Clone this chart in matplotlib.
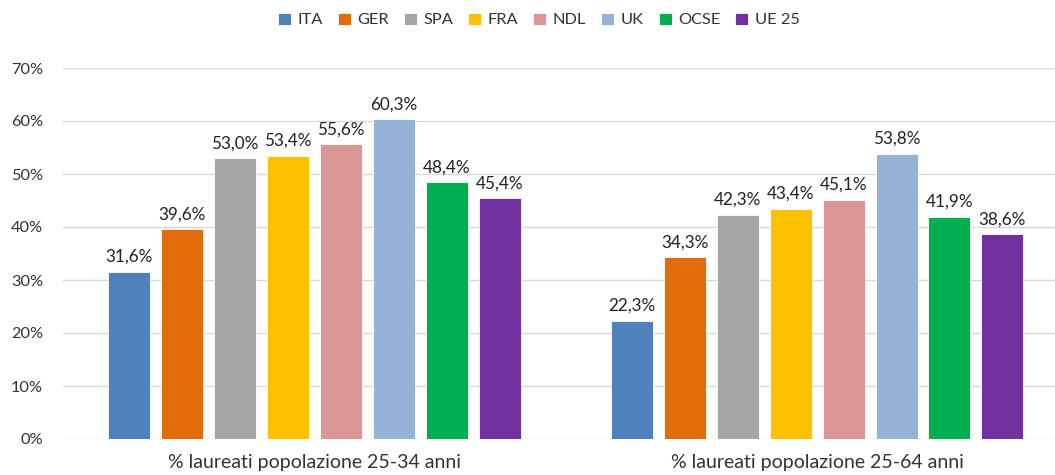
import matplotlib
matplotlib.use("Agg")
import matplotlib.pyplot as plt
import numpy as np

plt.rcParams["font.family"] = ["Lato", "DejaVu Sans"]

groups = ["% laureati popolazione 25-34 anni", "% laureati popolazione 25-64 anni"]
countries = ["ITA", "GER", "SPA", "FRA", "NDL", "UK", "OCSE", "UE 25"]
colors = ["#4F81BD", "#E36C0A", "#A5A5A5", "#FFC000", "#D99694", "#95B3D7", "#00B050", "#7030A0"]
ita = [31.6, 22.3]
ger = [39.6, 34.3]
spa = [53.0, 42.3]
fra = [53.4, 43.4]
ndl = [55.6, 45.1]
uk = [60.3, 53.8]
ocse = [48.4, 41.9]
ue25 = [45.4, 38.6]
series = [ita, ger, spa, fra, ndl, uk, ocse, ue25]
yticks = [0, 10, 20, 30, 40, 50, 60, 70]

W, H = 1055, 475
fig = plt.figure(figsize=(W / 100, H / 100), dpi=100)
# category spacing 503 px, first center at 314 px, second at 817 px
left_px, bottom_px, top_px = 62.5, 36, 407
ax = fig.add_axes([left_px / W, bottom_px / H, (W - left_px) / W, (top_px - bottom_px) / H])
ax.set_xlim(-0.5, 1 + (W - 817) / 503)
ax.set_ylim(0, 70)

x = np.arange(len(groups))
step, bw = 53 / 503, 42 / 503
for i, (name, vals, col) in enumerate(zip(countries, series, colors)):
    pos = x + (i - 3.5) * step
    b = ax.bar(pos, vals, bw, color=col, label=name, edgecolor="white", linewidth=0.6, zorder=3)
    ax.bar_label(b, labels=[f"{v:.1f}%".replace(".", ",") for v in vals],
                 padding=5, fontsize=12.3, color="#222222")

ax.set_yticks(yticks)
ax.set_yticklabels([f"{t}%" for t in yticks])
ax.set_xticks(x)
ax.set_xticklabels(groups)
ax.grid(axis="y", color="#D9D9D9", lw=1, zorder=0)
for s in ax.spines.values():
    s.set_visible(False)
ax.tick_params(axis="both", length=0, colors="#333333")
ax.tick_params(axis="y", pad=14, labelsize=11.8)
ax.tick_params(axis="x", pad=11, labelsize=14)
ax.set_axisbelow(True)

fig.legend(loc="center", bbox_to_anchor=(539 / W, 1 - 20 / H), ncol=8, frameon=False,
           fontsize=11.8, handlelength=0.8, handleheight=0.8, handletextpad=0.4,
           columnspacing=0.9, labelcolor="#333333")

fig.savefig("out.png", dpi=100)
